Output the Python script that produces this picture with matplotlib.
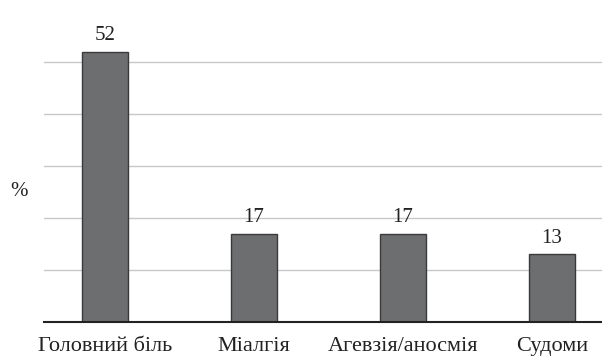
import matplotlib.pyplot as plt

# дані
categories = ['Головний біль', 'Міалгія', 'Агевзія/аносмія', 'Судоми']
values = [52, 17, 17, 13]
grid_ticks = [10, 20, 30, 40, 50]

plt.rcParams['font.family'] = ['Liberation Serif', 'DejaVu Serif']

fig = plt.figure(figsize=(6.02, 3.56), dpi=100)
ax = fig.add_axes([44 / 602, 34 / 356, 1 - 44 / 602, 312 / 356])

x = range(len(categories))
ax.bar(x, values, width=0.31, color='#6d6e70', edgecolor='#3a3a3a', linewidth=1, zorder=3)

for xi, v in zip(x, values):
    ax.text(xi, v + 1.3, str(v), ha='center', va='bottom', fontsize=15, color='#222222')

ax.set_xlim(-0.41, 3.335)
ax.set_ylim(0, 60)
ax.set_yticks(grid_ticks)
ax.set_yticklabels([])
ax.tick_params(axis='y', length=0)
ax.yaxis.grid(True, color='#c8c8c8', linewidth=1)
ax.set_axisbelow(True)

ax.set_xticks(list(x))
ax.set_xticklabels(categories, fontsize=16, color='#222222')
ax.tick_params(axis='x', length=0, pad=11)

for s in ['top', 'right', 'left']:
    ax.spines[s].set_visible(False)
ax.spines['bottom'].set_color('#222222')
ax.spines['bottom'].set_linewidth(1.5)
ax.spines['bottom'].set_zorder(4)

ax.set_ylabel('%', rotation=0, fontsize=15, color='#222222', va='center', ha='center')
ax.yaxis.set_label_coords(-0.045, 25 / 60)

fig.savefig('out.png', dpi=100)
